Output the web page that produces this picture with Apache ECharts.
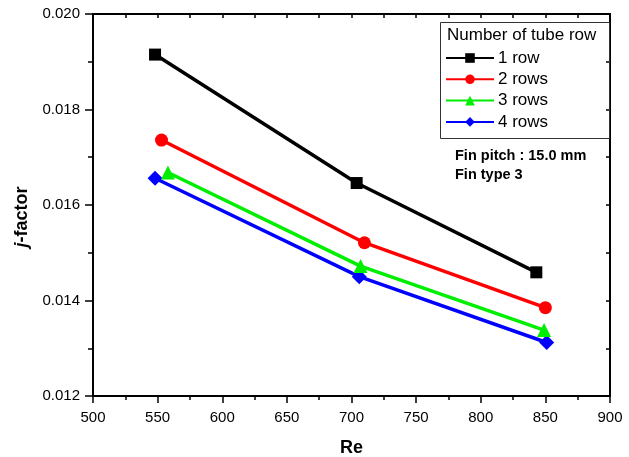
<!DOCTYPE html>
<html>
<head>
<meta charset="utf-8">
<script src="https://cdn.jsdelivr.net/npm/echarts@6/dist/echarts.min.js"></script>
<style>
  html, body { margin: 0; padding: 0; background: #fff; }
  #chart { width: 629px; height: 457px; }
</style>
</head>
<body>
<div id="chart"></div>
<script>
// Reynolds number and j-factor for each tube-row count
const seriesNames = ['1 row', '2 rows', '3 rows', '4 rows'];
const re1 = [548, 704, 843];
const j1 = [0.01915, 0.01646, 0.01459];
const re2 = [553, 710, 850];
const j2 = [0.01736, 0.01521, 0.01385];
const re3 = [558, 707, 849];
const j3 = [0.01668, 0.01472, 0.01338];
const re4 = [548, 706, 851];
const j4 = [0.01656, 0.01450, 0.01312];

const xTicks = [500, 550, 600, 650, 700, 750, 800, 850, 900];
const yTicks = [0.012, 0.014, 0.016, 0.018, 0.020];

const legendTitle = 'Number of tube row';
const noteLines = ['Fin pitch : 15.0 mm', 'Fin type 3'];

const colors = ['#000000', '#ff0000', '#00ee00', '#0000ff'];
const symbols = ['rect', 'circle', 'triangle', 'diamond'];
const symbolSizes = [12, 13, 14, 15];
const reArr = [re1, re2, re3, re4];
const jArr = [j1, j2, j3, j4];

const FONT = '"Liberation Sans", Arial, sans-serif';
const grid = { left: 93, top: 14, width: 517, height: 382, containLabel: false, outerBoundsMode: 'none' };

const chart = echarts.init(document.getElementById('chart'));

const series = seriesNames.map((name, i) => ({
  name,
  type: 'line',
  data: reArr[i].map((x, k) => [x, jArr[i][k]]),
  symbol: symbols[i],
  symbolSize: symbolSizes[i],
  showAllSymbol: true,
  color: colors[i],
  lineStyle: { width: 3.5, color: colors[i] },
  itemStyle: { color: colors[i] },
  z: 10 - i,
  animation: false
}));

const axisLine = { show: true, onZero: false, lineStyle: { color: '#000', width: 2 } };
const tickStyle = { color: '#000', width: 1.5 };

chart.setOption({
  animation: false,
  grid,
  xAxis: [
    {
      type: 'value', position: 'bottom', min: xTicks[0], max: xTicks[xTicks.length - 1], interval: 50,
      name: 'Re', nameLocation: 'middle', nameGap: 43,
      nameTextStyle: { fontFamily: FONT, fontSize: 18, fontWeight: 'bold', color: '#000' },
      axisLine,
      axisTick: { show: true, inside: false, length: 7, lineStyle: tickStyle },
      minorTick: { show: true, splitNumber: 2, length: 4, lineStyle: tickStyle },
      axisLabel: { fontFamily: FONT, fontSize: 15, color: '#000', margin: 14 },
      splitLine: { show: false }
    },
    {
      type: 'value', position: 'top', min: xTicks[0], max: xTicks[xTicks.length - 1], interval: 50,
      axisLine,
      axisTick: { show: true, inside: true, length: 4, lineStyle: tickStyle },
      minorTick: { show: true, splitNumber: 2, length: 4, lineStyle: tickStyle },
      axisLabel: { show: false },
      splitLine: { show: false }
    }
  ],
  yAxis: [
    {
      type: 'value', position: 'left', min: yTicks[0], max: yTicks[yTicks.length - 1], interval: 0.002,
      axisLine,
      axisTick: { show: true, inside: false, length: 8, lineStyle: tickStyle },
      minorTick: { show: true, splitNumber: 2, length: 5, lineStyle: tickStyle },
      axisLabel: { fontFamily: FONT, fontSize: 15, color: '#000', margin: 13, formatter: v => v.toFixed(3) },
      splitLine: { show: false }
    },
    {
      type: 'value', position: 'right', min: yTicks[0], max: yTicks[yTicks.length - 1], interval: 0.002,
      axisLine,
      axisTick: { show: true, inside: true, length: 4, lineStyle: tickStyle },
      minorTick: { show: true, splitNumber: 2, length: 4, lineStyle: tickStyle },
      axisLabel: { show: false },
      splitLine: { show: false }
    }
  ],
  legend: {
    data: seriesNames,
    orient: 'vertical',
    left: 445, top: 49.5,
    itemWidth: 48, itemHeight: 12, itemGap: 4.3,
    textStyle: { fontFamily: FONT, fontSize: 17, color: '#000', padding: [0, 0, 0, -1] },
    padding: 0,
    selectedMode: false
  },
  graphic: [
    {
      type: 'text', x: 22, y: 217, rotation: Math.PI / 2, z: 21,
      style: {
        text: '{i|j}-factor', align: 'center', verticalAlign: 'middle',
        font: 'bold 18px ' + FONT, fill: '#000',
        rich: { i: { fontFamily: FONT, fontSize: 18, fontWeight: 'bold', fontStyle: 'italic', fill: '#000' } }
      }
    },
    {
      type: 'rect', left: 438, top: 20, z: 20,
      shape: { width: 169, height: 116 },
      style: { fill: 'none', stroke: '#333', lineWidth: 1 }
    },
    {
      type: 'text', left: 447, top: 27, z: 21,
      style: { text: legendTitle, font: '17px ' + FONT, fill: '#000' }
    },
    {
      type: 'text', left: 455, top: 146, z: 21,
      style: { text: noteLines.join('\n'), font: 'bold 14.5px ' + FONT, fill: '#000', lineHeight: 19 }
    }
  ],
  series
});
</script>
</body>
</html>
